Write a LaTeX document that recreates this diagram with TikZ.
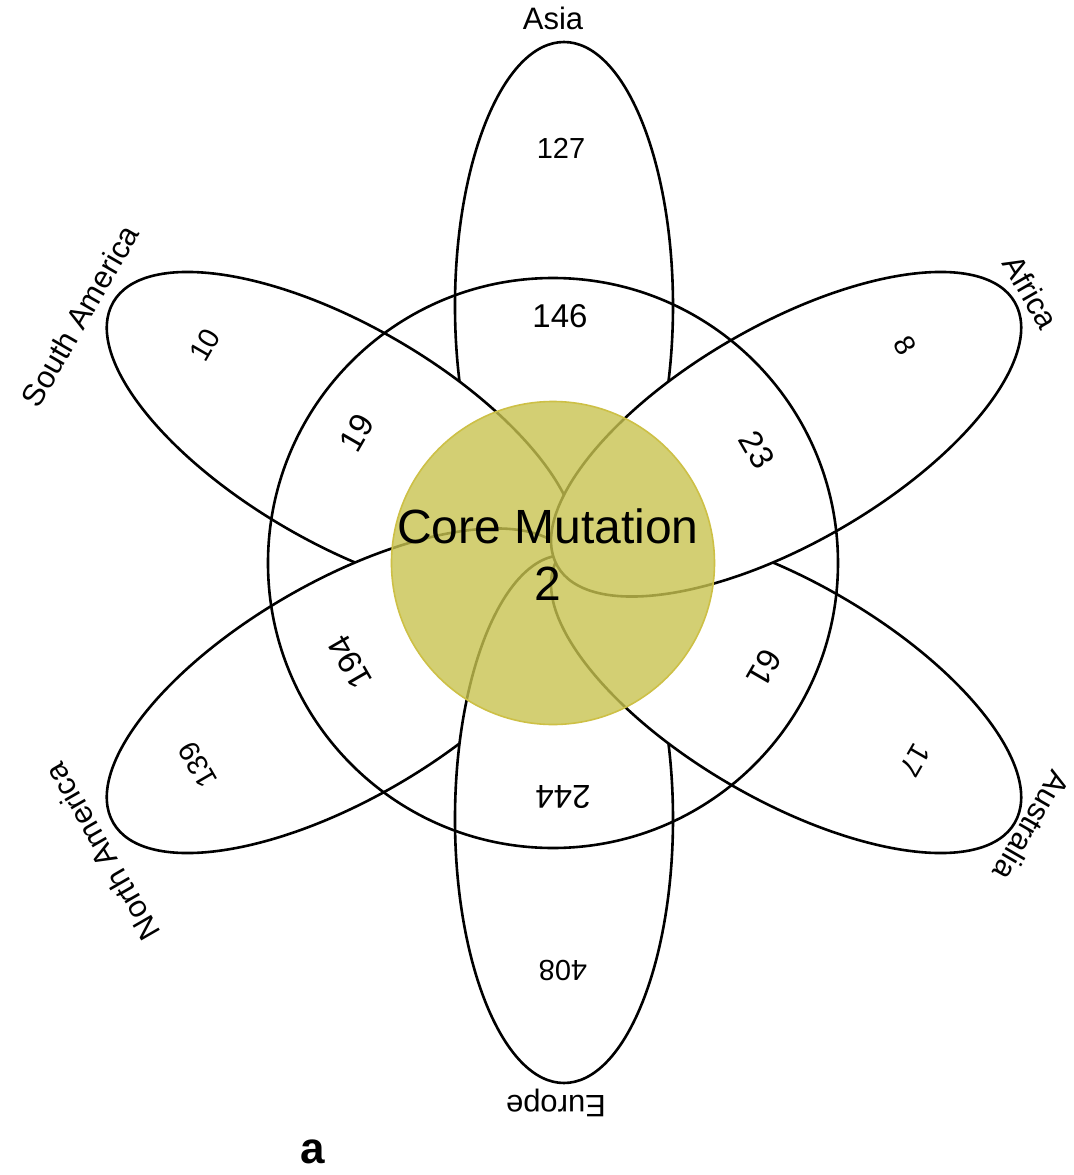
\documentclass[tikz,border=0pt]{standalone}
\usepackage{fontspec}
\setmainfont{Liberation Sans}
\usepackage{tikz}

\definecolor{coreyellow}{RGB}{200,196,80}
\definecolor{coreedge}{RGB}{205,192,70}

\tikzset{
  petal/.style={draw=black, fill=white, line width=1.3pt},
  ring/.style={draw=black, line width=1.3pt},
  core/.style={fill=coreyellow, fill opacity=0.8, draw=coreedge, line width=0.8pt},
  setname/.style={font=\fontsize{15.5}{18}\selectfont},
  outernum/.style={font=\fontsize{14.5}{17}\selectfont},
  innernum/.style={font=\fontsize{16.5}{19}\selectfont},
}

\begin{document}
\begin{tikzpicture}[x=0.5pt, y=0.5pt]
    \useasboundingbox (-564,-612.5) rectangle (510,562.5);

    % Petalos (cada uno tapa al anterior)
    \foreach \ang in {90,150,-150,-90,-30,30}
        \draw[petal, rotate=\ang] (256.5,0) ellipse [x radius=264, y radius=109];

    % Circulo grande
    \draw[ring] (-11,-0.5) circle (285);

    % Nucleo
    \draw[core] (-11,-0.5) circle (161.5);
    \node[align=center, font=\fontsize{24}{28.5}\selectfont] (core) at (-16,7.5) {Core Mutation\\2};

    % Nombres
    \node[setname] (asia) at (-11,544.5) {Asia};
    \node[setname, rotate=-60] (africa) at (467,270.5) {Africa};
    \node[setname, rotate=-120] (australia) at (468,-263.5) {Australia};
    \node[setname, rotate=180] (europe) at (-8,-540.5) {Europe};
    \node[setname, rotate=120] (namerica) at (-462,-289.5) {North America};
    \node[setname, rotate=60] (samerica) at (-484,246.5) {South America};

    % Valores
    \node[outernum] (asiaonly) at (-3,414.5) {127};
    \node[innernum] (asiaring) at (-4,246.5) {146};
    \node[outernum, rotate=-60] (africaonly) at (341,217.5) {8};
    \node[innernum, rotate=-60] (africaring) at (193,112.5) {23};
    \node[outernum, rotate=-120] (australiaonly) at (351,-197.5) {17};
    \node[innernum, rotate=-120] (australiaring) at (200,-105.5) {61};
    \node[outernum, rotate=180] (europeonly) at (-1,-407.5) {408};
    \node[innernum, rotate=180] (europering) at (-1,-234.5) {244};
    \node[outernum, rotate=120] (namericaonly) at (-366,-202.5) {139};
    \node[innernum, rotate=120] (namericaring) at (-214,-99.5) {194};
    \node[outernum, rotate=60] (samericaonly) at (-359,217.5) {10};
    \node[innernum, rotate=60] (samericaring) at (-207,129.5) {19};

    % Panel
    \node[font=\fontsize{22}{26}\selectfont\bfseries] (panel) at (-251,-589.5) {a};
\end{tikzpicture}
\end{document}
